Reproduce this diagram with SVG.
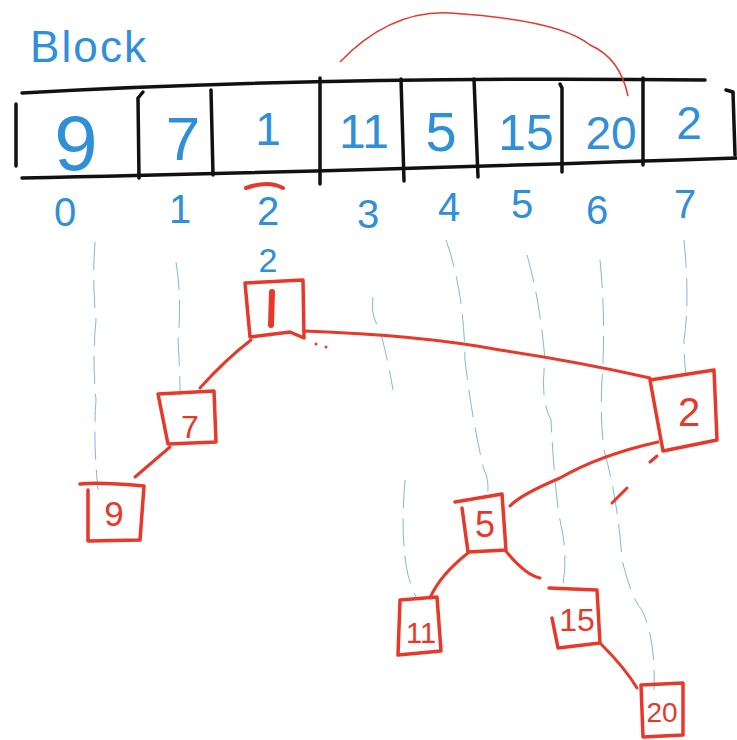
<svg xmlns="http://www.w3.org/2000/svg" width="737" height="740" viewBox="0 0 737 740">
<style>
.ink{fill:none;stroke:#111;stroke-width:3.5;stroke-linecap:round;stroke-linejoin:round}
.blue{fill:#2f8fd8;font-family:"Liberation Sans",Arial,sans-serif;text-anchor:middle}
.idx{font-size:40px}
.box{fill:none;stroke:#e8382a;stroke-width:3.5;stroke-linecap:round;stroke-linejoin:round}
.lbl{fill:#e8382a;font-family:"Liberation Sans",Arial,sans-serif;text-anchor:middle}
.edge{fill:none;stroke:#e8382a;stroke-width:3;stroke-linecap:round}
.guide{fill:none;stroke:#7fb8e6;stroke-width:1;stroke-dasharray:28 10}
</style>
<rect width="737" height="740" fill="#fff"/>
<text x="30" y="62" fill="#2f8fd8" font-family="'Liberation Sans',Arial,sans-serif" font-size="44" textLength="116">Block</text>
<g id="array">
<path class="ink" d="M22 93 Q320 76 705 80"/>
<path class="ink" d="M22 178 Q320 172 737 158"/>
<path class="ink" d="M16 104 L16 166"/>
<path class="ink" d="M143 92 L138 98 L139 178"/>
<path class="ink" d="M211 90 L213 175"/>
<path class="ink" d="M320 78 L320 184"/>
<path class="ink" d="M401 79 L404 181"/>
<path class="ink" d="M474 79 L478 177"/>
<path class="ink" d="M560 84 L562 88 L562 172"/>
<path class="ink" d="M643 78 L643 165"/>
<path class="ink" d="M726 90 L733 92 L735 155"/>
<text class="blue" x="76" y="170" font-size="78">9</text>
<text class="blue" x="183" y="160" font-size="62">7</text>
<text class="blue" x="268" y="145" font-size="46">1</text>
<text class="blue" x="364" y="148" font-size="48">11</text>
<text class="blue" x="441" y="151" font-size="56">5</text>
<text class="blue" x="526" y="150" font-size="50">15</text>
<text class="blue" x="611" y="149" font-size="46">20</text>
<text class="blue" x="689" y="139" font-size="46">2</text>
</g>
<g id="indices">
<text class="blue idx" x="65" y="226">0</text>
<text class="blue idx" x="180" y="223">1</text>
<text class="blue idx" x="268" y="225">2</text>
<text class="blue idx" x="368" y="228">3</text>
<text class="blue idx" x="449" y="221">4</text>
<text class="blue idx" x="522" y="218">5</text>
<text class="blue idx" x="597" y="224">6</text>
<text class="blue idx" x="685" y="218">7</text>
<path d="M246 188 Q268 180 283 188" fill="none" stroke="#e8382a" stroke-width="4" stroke-linecap="round"/>
</g>
<path id="arc" d="M340 62 Q390 10 450 13 Q560 20 590 45 Q620 58 628 96" fill="none" stroke="#e8382a" stroke-width="1.5"/>
<g id="guides">
<path class="guide" d="M95 242 Q92 280 96 320 Q92 360 96 400 Q93 440 98 490"/>
<path class="guide" d="M176 262 Q182 300 178 340 Q180 370 180 395"/>
<path class="guide" d="M373 297 Q370 315 380 330 Q388 360 393 390"/>
<path class="guide" d="M405 480 Q400 540 408 575 Q414 595 418 600"/>
<path class="guide" d="M446 240 Q464 290 465 360 Q472 420 484 470 Q490 480 487 500"/>
<path class="guide" d="M527 255 Q540 300 545 360 Q540 400 551 420 Q555 500 562 530 Q568 560 562 590"/>
<path class="guide" d="M600 260 Q606 320 602 380 Q600 420 604 450 Q618 500 622 560 Q632 600 642 610 Q656 640 654 690"/>
<path class="guide" d="M684 240 Q690 300 684 340 Q684 360 686 375"/>
</g>
<g id="connectors">
<path class="edge" d="M251 340 Q225 360 200 388"/>
<path class="edge" d="M170 447 L135 477"/>
<path class="edge" d="M304 331 Q420 335 500 350 Q580 362 650 378"/>
<path class="edge" d="M658 442 Q600 455 560 478 Q520 495 510 506"/>
<path class="edge" d="M468 553 Q440 575 430 598"/>
<path class="edge" d="M505 550 Q525 575 540 578"/>
<path class="edge" d="M601 644 Q625 668 637 688"/>
<path class="edge" d="M650 462 L657 456"/>
<path class="edge" d="M612 503 L627 488"/>
<circle cx="316" cy="344" r="1.5" fill="#e8382a"/>
<circle cx="326" cy="347" r="1.5" fill="#e8382a"/>
</g>
<g id="n1">
<path class="box" d="M245 283 L303 280 L304 338 L290 332 L250 337 Z"/>
<path d="M272 292 L271 325" stroke="#e8382a" stroke-width="6" stroke-linecap="round"/>
<text class="blue" x="268" y="272" font-size="34">2</text>
</g>
<g id="n7">
<path class="box" d="M158 394 L214 391 L216 442 L168 444 Z"/>
<text class="lbl" x="190" y="438" font-size="32">7</text>
</g>
<g id="n9">
<path class="box" d="M80 484 Q100 482 144 486 L140 540 L88 541 L88 490"/>
<text class="lbl" x="114" y="526" font-size="35">9</text>
</g>
<g id="n2">
<path class="box" d="M650 380 L714 370 L717 440 L663 451 Z"/>
<text class="lbl" x="689" y="426" font-size="40">2</text>
</g>
<g id="n5">
<path class="box" d="M455 502 L502 494 L506 550 L468 552 L462 508"/>
<text class="lbl" x="485" y="537" font-size="36">5</text>
</g>
<g id="n11">
<path class="box" d="M400 600 L437 597 L441 651 L398 655 Z"/>
<text class="lbl" x="421" y="643" font-size="29">11</text>
</g>
<g id="n15">
<path class="box" d="M549 588 L597 590 L600 643 L558 648 L552 618"/>
<text class="lbl" x="577" y="631" font-size="32">15</text>
</g>
<g id="n20">
<path class="box" d="M641 685 L683 683 L683 735 L643 737 Z"/>
<text class="lbl" x="662" y="722" font-size="28">20</text>
</g>
</svg>
